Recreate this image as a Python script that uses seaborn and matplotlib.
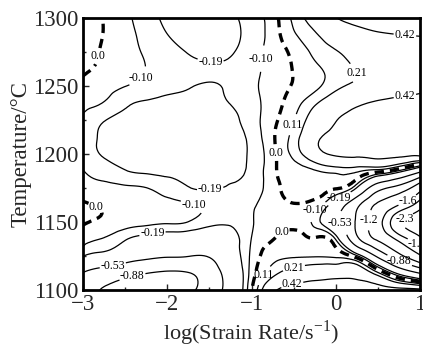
import numpy as np
import matplotlib
matplotlib.use("Agg")
import matplotlib.pyplot as plt
import matplotlib.tri as mtri
import seaborn as sns

strain_log = [-3, -2.75, -2.5, -2.25, -2, -1.75, -1.5, -1.25, -1,
              -0.75, -0.5, -0.25, 0, 0.25, 0.5, 0.75, 1]
temps = [1100, 1112.5, 1125, 1137.5, 1150, 1162.5, 1175, 1187.5, 1200,
         1212.5, 1225, 1237.5, 1250, 1262.5, 1275, 1287.5, 1300]

r1100 = [-0.75, -0.90, -0.98, -1.02, -1.00, -0.93, -0.72, -0.40, -0.015, 0.38, 0.48, 0.50, 0.50, 0.50, 0.50, 0.50, 0.48]
r1112 = [-0.54, -0.68, -0.78, -0.87, -0.92, -0.89, -0.70, -0.39, -0.06, 0.17, 0.28, 0.33, 0.35, 0.35, 0.13, -0.25, -0.55]
r1125 = [-0.185, -0.26, -0.37, -0.45, -0.50, -0.52, -0.51, -0.30, -0.08, 0.07, 0.10, 0.10, 0.09, -0.08, -0.60, -1.10, -1.55]
r1137 = [-0.075, -0.105, -0.18, -0.235, -0.27, -0.28, -0.30, -0.25, -0.098, -0.005, 0.05, 0.01, -0.11, -0.80, -1.25, -1.70, -2.20]
r1150 = [0.018, -0.02, -0.05, -0.07, -0.085, -0.102, -0.16, -0.17, -0.11, -0.04, -0.04, -0.13, -0.45, -0.92, -1.45, -2.20, -2.65]
r1162 = [0.018, -0.015, -0.04, -0.055, -0.07, -0.09, -0.125, -0.15, -0.115, -0.05, -0.01, -0.05, -0.32, -0.80, -1.25, -1.60, -2.10]
r1175 = [-0.07, -0.075, -0.085, -0.098, -0.14, -0.185, -0.195, -0.185, -0.15, -0.045, 0.04, 0.05, 0.01, -0.20, -0.75, -1.00, -1.45]
r1187 = [-0.098, -0.14, -0.185, -0.205, -0.21, -0.21, -0.205, -0.20, -0.17, -0.03, 0.06, 0.10, 0.14, 0.13, 0.05, -0.12, -0.45]
r1200 = [-0.13, -0.20, -0.22, -0.23, -0.23, -0.225, -0.22, -0.21, -0.175, -0.03, 0.14, 0.33, 0.45, 0.47, 0.48, 0.48, 0.48]
r1212 = [-0.15, -0.205, -0.225, -0.235, -0.24, -0.235, -0.225, -0.215, -0.165, -0.017, 0.15, 0.37, 0.47, 0.52, 0.53, 0.53, 0.52]
r1225 = [-0.115, -0.185, -0.215, -0.225, -0.23, -0.23, -0.225, -0.21, -0.145, -0.03, 0.105, 0.29, 0.415, 0.47, 0.50, 0.50, 0.50]
r1237 = [-0.075, -0.105, -0.17, -0.20, -0.21, -0.21, -0.205, -0.188, -0.135, -0.05, 0.06, 0.19, 0.31, 0.39, 0.44, 0.46, 0.45]
r1250 = [-0.026, -0.065, -0.098, -0.13, -0.165, -0.185, -0.195, -0.175, -0.12, -0.06, 0.01, 0.08, 0.18, 0.24, 0.30, 0.35, 0.40]
r1262 = [0.015, -0.024, -0.063, -0.101, -0.14, -0.17, -0.18, -0.17, -0.125, -0.066, 0.006, 0.084, 0.157, 0.215, 0.26, 0.31, 0.36]
r1275 = [0.039, -0.012, -0.063, -0.111, -0.152, -0.195, -0.215, -0.20, -0.138, -0.062, 0.029, 0.133, 0.20, 0.27, 0.32, 0.35, 0.38]
r1287 = [0.058, -0.004, -0.067, -0.129, -0.188, -0.23, -0.24, -0.215, -0.157, -0.055, 0.092, 0.193, 0.30, 0.37, 0.405, 0.418, 0.425]
r1300 = [0.08, -0.005, -0.076, -0.15, -0.21, -0.24, -0.245, -0.21, -0.15, -0.047, 0.137, 0.276, 0.415, 0.46, 0.48, 0.50, 0.52]

levels_solid = [-2.3, -1.9, -1.6, -1.2, -0.88, -0.53, -0.19, -0.10, 0.11, 0.21, 0.42]
level_zero = [0.0]
level_text = {-2.3: "-2.3", -1.9: "-1.9", -1.6: "-1.6", -1.2: "-1.2",
              -0.88: "-0.88", -0.53: "-0.53", -0.19: "-0.19", -0.10: "-0.10",
              0.11: "0.11", 0.21: "0.21", 0.42: "0.42", 0.0: "0.0"}

xticks = [-3, -2, -1, 0, 1]
yticks = [1100, 1150, 1200, 1250, 1300]

# label anchor spots (placement only)
solid_label_spots = [(-2.29, 1254), (-1.49, 1265), (-0.84, 1270), (0.26, 1260),
                     (0.82, 1287), (0.82, 1243), (-0.58, 1223), (-1.49, 1174),
                     (-1.69, 1162), (-2.17, 1139), (-2.64, 1116), (-2.41, 1109),
                     (0.05, 1166), (-0.22, 1157), (0.05, 1149), (0.45, 1151),
                     (0.85, 1166), (0.83, 1151), (0.95, 1133), (0.76, 1122),
                     (-0.51, 1120), (-0.86, 1111), (-0.52, 1105)]
zero_label_spots = [(-2.77, 1271), (-0.72, 1201), (-2.86, 1159), (-0.66, 1144)]

# ---- style ----
sns.set_style("ticks", {"xtick.direction": "in", "ytick.direction": "in"})
plt.rcParams["font.family"] = ["Liberation Serif", "DejaVu Serif"]
plt.rcParams["mathtext.fontset"] = "custom"
plt.rcParams["mathtext.rm"] = "Liberation Serif"
plt.rcParams["lines.dashed_pattern"] = [2.8, 1.8]

Z = np.array([r1100, r1112, r1125, r1137, r1150, r1162, r1175, r1187, r1200,
              r1212, r1225, r1237, r1250, r1262, r1275, r1287, r1300])
X, Y = np.meshgrid(strain_log, temps)

# smooth the contour lines with matplotlib's own triangular refiner
u = (X.ravel() + 3) / 4.0
v = (Y.ravel() - 1100) / 200.0
tri = mtri.Triangulation(u, v)
interp = mtri.CubicTriInterpolator(tri, Z.ravel(), kind="min_E")
refiner = mtri.UniformTriRefiner(tri)
tri_r, z_r = refiner.refine_field(Z.ravel(), triinterpolator=interp, subdiv=3)
tri_d = mtri.Triangulation(tri_r.x * 4.0 - 3, tri_r.y * 200.0 + 1100, triangles=tri_r.triangles)

fig = plt.figure(figsize=(4.23, 3.52), dpi=100)
ax = fig.add_axes([83 / 423, 1 - 290 / 352, (420 - 83) / 423, (290 - 18) / 352])

cs = ax.tricontour(tri_d, z_r, levels=levels_solid, colors="k", linewidths=0.9,
                   negative_linestyles="solid")
cs0 = ax.tricontour(tri_d, z_r, levels=level_zero, colors="k", linewidths=2.4,
                    linestyles="--")

lab1 = ax.clabel(cs, fmt=level_text, manual=solid_label_spots, fontsize=8.5,
                 inline=True, inline_spacing=1)
lab0 = ax.clabel(cs0, fmt=level_text, manual=zero_label_spots, fontsize=8.5,
                 inline=True, inline_spacing=1)
for t in list(lab1) + list(lab0):
    t.set_rotation(0)

ax.set_xlim(-3, 1)
ax.set_ylim(1100, 1300)
ax.set_xticks(xticks)
ax.set_yticks(yticks)
ax.set_xticks(np.arange(-3, 1.01, 0.5), minor=True)
ax.set_yticks(np.arange(1100, 1301, 25), minor=True)
ax.tick_params(which="major", direction="in", length=4, width=1, labelsize=16.5,
               top=False, right=False, pad=3)
ax.tick_params(which="minor", direction="in", length=2, width=1)
for s in ax.spines.values():
    s.set_linewidth(2)
    s.set_color("k")

ax.set_xlabel(r"log(Strain Rate/s$^{\mathregular{-1}}$)", fontsize=16, labelpad=2)
ax.set_ylabel("Temperature/°C", fontsize=16.5, labelpad=1)

fig.savefig("out.png", dpi=100)
